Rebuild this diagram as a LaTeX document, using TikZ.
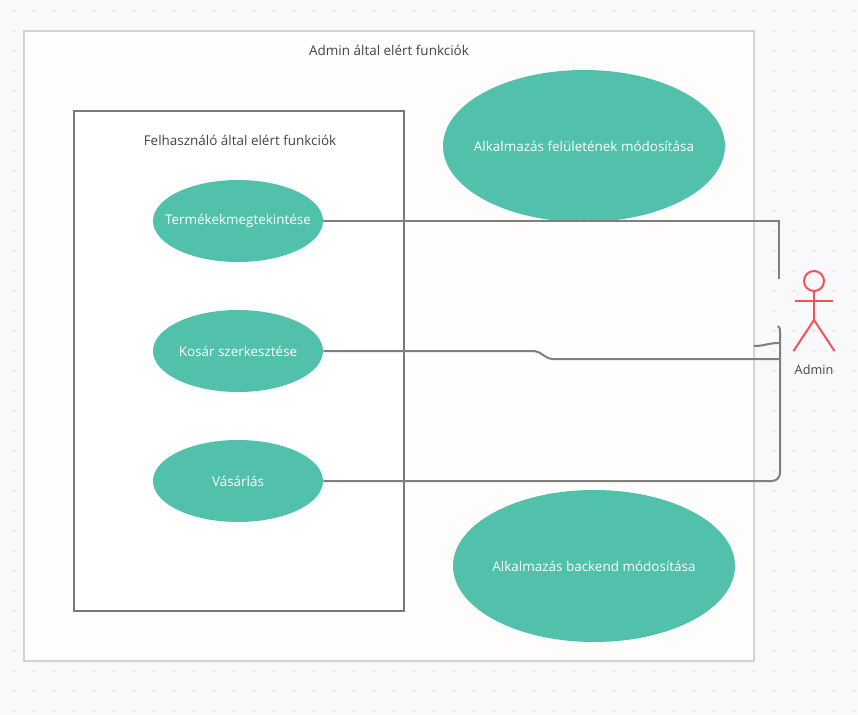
\documentclass[tikz,border=0pt]{standalone}
\usepackage{fontspec}
\setmainfont{Open Sans}
\usetikzlibrary{shapes.geometric}
\definecolor{pagebg}{HTML}{F9F9FC}
\definecolor{dotc}{HTML}{E4E4E8}
\definecolor{framec}{HTML}{D2D2D2}
\definecolor{framefill}{HTML}{FEFDFC}
\definecolor{linec}{HTML}{7F7F7F}
\definecolor{boxc}{HTML}{7A7A7A}
\definecolor{tealc}{HTML}{51C1AB}
\definecolor{redc}{HTML}{F0545A}
\definecolor{textc}{HTML}{444444}
\newcommand{\ovltext}[1]{\raisebox{-0.75pt}{\makebox[0pt][c]{#1}}}
\tikzset{
  usecase/.style={ellipse,fill=tealc,inner sep=0pt,text=white,font=\fontsize{10.1}{12}\selectfont},
  smallcase/.style={usecase,minimum width=127.5pt,minimum height=61.5pt},
  bigcase/.style={usecase,minimum width=211.5pt,minimum height=114pt},
  caption/.style={inner sep=0pt,text=textc,font=\fontsize{10.1}{12}\selectfont},
  conn/.style={draw=linec,line width=1.5pt},
  actorline/.style={draw=redc,line width=1.5pt},
}
\begin{document}
\begin{tikzpicture}[x=0.75pt,y=-0.75pt]
\path[use as bounding box,fill=pagebg] (0,0) rectangle (858,715);
\foreach \i in {0,...,42}{\foreach \j in {0,...,35}{
  \fill[dotc] ({14+20*\i},{11+20*\j}) circle (1pt);}}
\node[draw=framec,fill=framefill,line width=1.5pt,minimum width=547.5pt,minimum height=472.5pt,inner sep=0pt] (outer) at (389,346) {};
\node[draw=boxc,fill=white,line width=1.5pt,minimum width=247.5pt,minimum height=375pt,inner sep=0pt] (inner) at (239,361) {};
\node[caption] (t1) at (389,50.3) {Admin által elért funkciók};
\node[caption] (t2) at (240,140.3) {Felhasználó által elért funkciók};
\node[smallcase] (uc1) at (238,221) {\ovltext{Termékekmegtekintése}};
\node[smallcase] (uc2) at (238,351) {\ovltext{Kosár szerkesztése}};
\node[smallcase] (uc3) at (238,481) {\ovltext{Vásárlás}};
\node[bigcase] (uc4) at (584,146) {\ovltext{Alkalmazás felületének módosítása}};
\node[bigcase] (uc5) at (594,566) {\ovltext{Alkalmazás backend módosítása}};
% actor
\node[circle,draw=redc,line width=1.5pt,minimum size=15pt,inner sep=0pt] (head) at (814,281) {};
\coordinate (armL) at (795,300.5);
\coordinate (armR) at (833,300.5);
\coordinate (hip) at (814,320);
\coordinate (legL) at (793.5,351);
\coordinate (legR) at (834.5,351);
\draw[actorline] (head.south) -- (hip);
\draw[actorline] (armL) -- (armR);
\draw[actorline] (legL) -- (hip) -- (legR);
\node[caption,font=\fontsize{9.5}{11}\selectfont] (adm) at (814,370) {Admin};
% connectors
\coordinate (a1) at (779,279);
\coordinate (a2) at (779,359);
\coordinate (a3) at (778,326);
\coordinate (s1) at (754,346);
\coordinate (s2) at (779,343);
\draw[conn] (uc1.east) -- (779,221) -- (a1);
\draw[conn] (uc2.east) -- (534,351) .. controls (541,351) and (545,359) .. (553,359) -- (a2);
\draw[conn,rounded corners=6pt] (uc3.east) -- (780,481) -- (780,332);
\draw[conn] (780,333) .. controls (780,329) and (780,327) .. (a3);
\draw[conn] (s1) .. controls (765,346) and (768,343) .. (s2);
\end{tikzpicture}
\end{document}
